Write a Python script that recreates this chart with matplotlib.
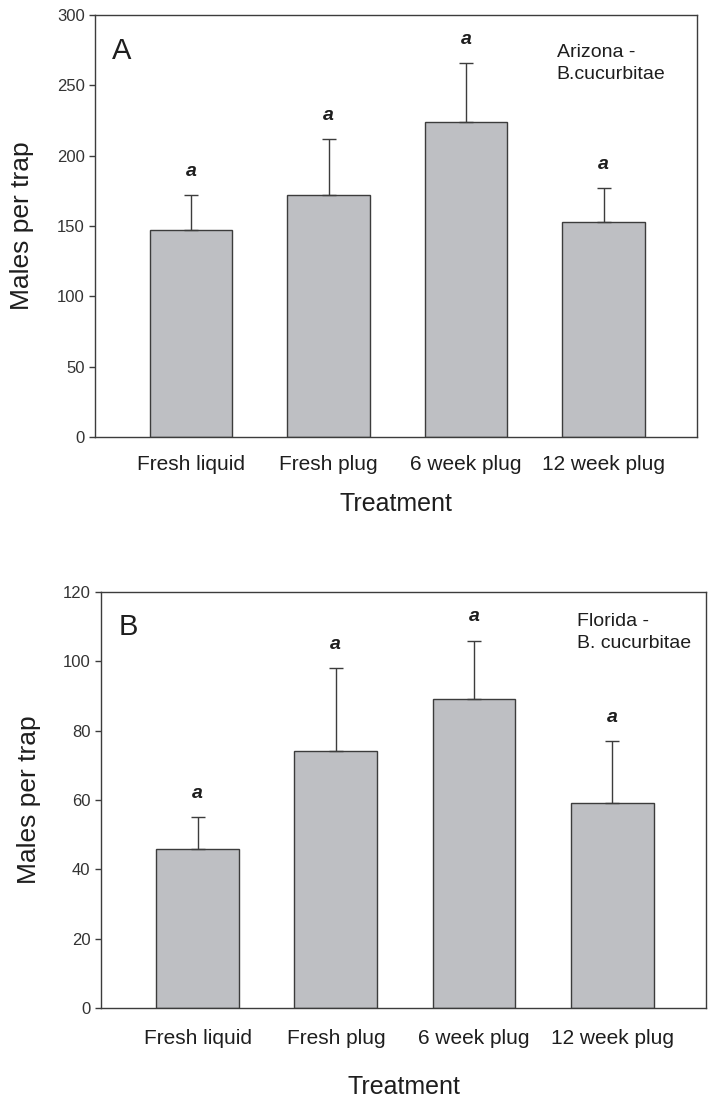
import numpy as np
import matplotlib
matplotlib.use('Agg')
import matplotlib.pyplot as plt

treatments = ['Fresh liquid', 'Fresh plug', '6 week plug', '12 week plug']

arizona_mean = [147, 172, 224, 153]
arizona_upper = [172, 212, 266, 177]
florida_mean = [46, 74, 89, 59]
florida_upper = [55, 98, 106, 77]
letters = ['a', 'a', 'a', 'a']

plt.rcParams['font.family'] = ['Liberation Sans', 'DejaVu Sans']
bar_col = '#bebfc3'
edge_col = '#3c3c3c'
txt_col = '#1e1e1e'


def panel(ax, means, upper, ymax, step, tag, site, site_xy, lab_x, xlab_y, xpad):
    x = np.arange(len(treatments))
    means = np.array(means)
    upper = np.array(upper)
    ax.bar(x, means, width=0.6, color=bar_col, edgecolor=edge_col, linewidth=1.0, zorder=2)
    ax.errorbar(x, means, yerr=[np.zeros_like(means), upper - means], fmt='none',
                ecolor=edge_col, elinewidth=1.0, capsize=5, capthick=1.0, zorder=3)
    for xi, u, l in zip(x, upper, letters):
        ax.annotate(l, (xi, u), xytext=(0, 11), textcoords='offset points',
                    ha='center', va='bottom', fontsize=14, style='italic',
                    fontweight='semibold', color=txt_col)
    ax.set_xlim(-0.70, 3.68)
    ax.set_ylim(0, ymax)
    ax.set_yticks(np.arange(0, ymax + 1, step))
    ax.set_xticks(x)
    ax.set_xticklabels(treatments, fontsize=15, color=txt_col)
    ax.tick_params(axis='x', length=0, pad=xpad)
    ax.tick_params(axis='y', direction='out', length=4.5, width=1.0, color=edge_col,
                   labelsize=12, labelcolor='#333333', pad=3)
    for s in ax.spines.values():
        s.set_color(edge_col)
        s.set_linewidth(1.0)
    ax.set_ylabel('Males per trap', fontsize=19, color=txt_col)
    ax.yaxis.set_label_coords(lab_x, 0.5)
    ax.set_xlabel('Treatment', fontsize=18, color=txt_col)
    ax.xaxis.set_label_coords(0.5, xlab_y)
    ax.text(0.045, 0.915, tag, transform=ax.transAxes, fontsize=21,
            ha='center', va='center', color=txt_col)
    ax.text(site_xy[0], site_xy[1], site, transform=ax.transAxes, fontsize=14,
            ha='left', va='center', linespacing=1.35, color=txt_col)


fig = plt.figure(figsize=(7.08, 10.98), dpi=100, facecolor='w')
ax1 = fig.add_axes([95 / 708, 1 - 437 / 1098, 602 / 708, 422 / 1098])
ax2 = fig.add_axes([101 / 708, 1 - 1008 / 1098, 605 / 708, 416 / 1098])

panel(ax1, arizona_mean, arizona_upper, 300, 50, 'A', 'Arizona -\nB.cucurbitae',
      (0.767, 0.885), -0.101, -0.13, 13)
panel(ax2, florida_mean, florida_upper, 120, 20, 'B', 'Florida -\nB. cucurbitae',
      (0.786, 0.903), -0.099, -0.162, 15)

plt.savefig('out.png', dpi=100)
